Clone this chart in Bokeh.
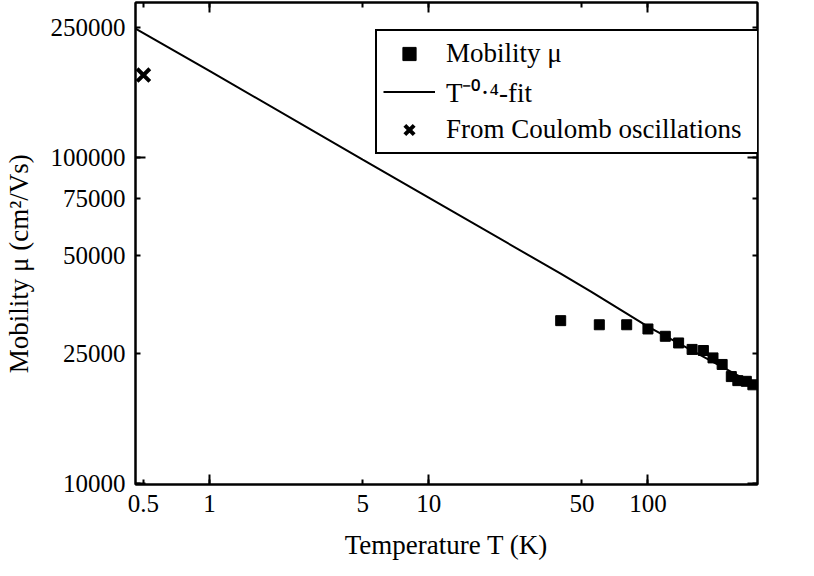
from bokeh.plotting import figure
from bokeh.models import LogAxis, FixedTicker, Range1d, Legend, LegendItem, CustomJSTickFormatter
from bokeh.embed import file_html
from bokeh.resources import INLINE

# ---- data ----
temps = [40, 60, 80, 100, 120, 138, 159, 179, 198, 218, 240, 257, 281, 301]
mobility = [31600, 30700, 30700, 29800, 28300, 27000, 25800, 25600, 24300, 23200, 21300, 20700, 20600, 20100]
fit_t = [0.46, 1, 5, 10, 40, 55, 100, 316]
fit_mu = [248000, 184000, 98400, 75300, 44000, 38800, 30300, 19900]
coulomb_t = [0.5]
coulomb_mu = [178600]
x_ticks = [0.5, 1, 5, 10, 50, 100]
x_long_ticks = [1, 10, 100]
y_ticks = [10000, 25000, 50000, 75000, 100000, 250000]
y_long_ticks = [10000, 100000]

FONT = "Liberation Serif"

p = figure(x_axis_type="log", y_axis_type="log",
           x_range=Range1d(0.46, 316), y_range=Range1d(9950, 298000),
           frame_width=622, frame_height=482,
           min_border_left=135, min_border_right=41, min_border_top=2, min_border_bottom=76,
           output_backend="svg", toolbar_location=None)
p.xgrid.visible = False
p.ygrid.visible = False
p.outline_line_color = "black"
p.outline_line_width = 2
p.background_fill_color = "white"
p.border_fill_color = "white"

fmt = CustomJSTickFormatter(code="return tick.toString();")

def style(ax, ticks, long_ticks, labels=True):
    ax.ticker = FixedTicker(ticks=ticks, minor_ticks=long_ticks)
    ax.axis_line_color = "black"
    ax.axis_line_width = 2
    ax.major_tick_line_color = "black"
    ax.major_tick_line_width = 2
    ax.minor_tick_line_color = "black"
    ax.minor_tick_line_width = 2
    ax.major_tick_in = 5
    ax.major_tick_out = 0
    ax.minor_tick_in = 10
    ax.minor_tick_out = 0
    if labels:
        ax.formatter = fmt
        ax.major_label_text_font = FONT
        ax.major_label_text_font_size = "25px"
        ax.major_label_text_color = "black"
        ax.major_label_standoff = 10
        ax.axis_label_text_font = FONT
        ax.axis_label_text_font_size = "27px"
        ax.axis_label_text_font_style = "normal"
        ax.axis_label_text_color = "black"
    else:
        ax.major_label_text_font_size = "0px"
        ax.major_label_standoff = 0

xa = p.xaxis[0]
ya = p.yaxis[0]
style(xa, x_ticks, x_long_ticks)
style(ya, y_ticks, y_long_ticks)
xa.axis_label = "Temperature T (K)"
xa.axis_label_standoff = 15
# trailing non-breaking spaces shift the rotated label slightly downwards, as in the reference
ya.axis_label = "Mobility \u03bc (cm\u00b2/Vs)" + "\u00a0" * 6
ya.axis_label_standoff = 14

top = LogAxis()
style(top, x_ticks, x_long_ticks, labels=False)
p.add_layout(top, "above")
right = LogAxis()
style(right, y_ticks, y_long_ticks, labels=False)
p.add_layout(right, "right")

r_line = p.line(fit_t, fit_mu, line_color="black", line_width=2)
r_pts = p.scatter(temps, mobility, marker="square", size=10, fill_color="black", line_color="black")
r_x = p.scatter(coulomb_t, coulomb_mu, marker="x", size=18, line_color="black", line_width=4)

legend = Legend(items=[
    LegendItem(label="Mobility \u03bc", renderers=[r_pts]),
    LegendItem(label="T\u207b\u2070\u00b7\u2074-fit", renderers=[r_line]),
    LegendItem(label="From Coulomb oscillations", renderers=[r_x]),
], location=(240, 330))
legend.border_line_color = "black"
legend.border_line_width = 2
legend.border_line_alpha = 1
legend.background_fill_color = "white"
legend.background_fill_alpha = 1
legend.label_text_font = FONT
legend.label_text_font_size = "27px"
legend.label_text_color = "black"
legend.padding = 6
legend.spacing = 3
legend.glyph_width = 52
legend.glyph_height = 33
legend.label_height = 33
legend.label_standoff = 11
legend.label_width = 370
legend.margin = 0
p.add_layout(legend)

open("out.html", "w").write(file_html(p, INLINE))
